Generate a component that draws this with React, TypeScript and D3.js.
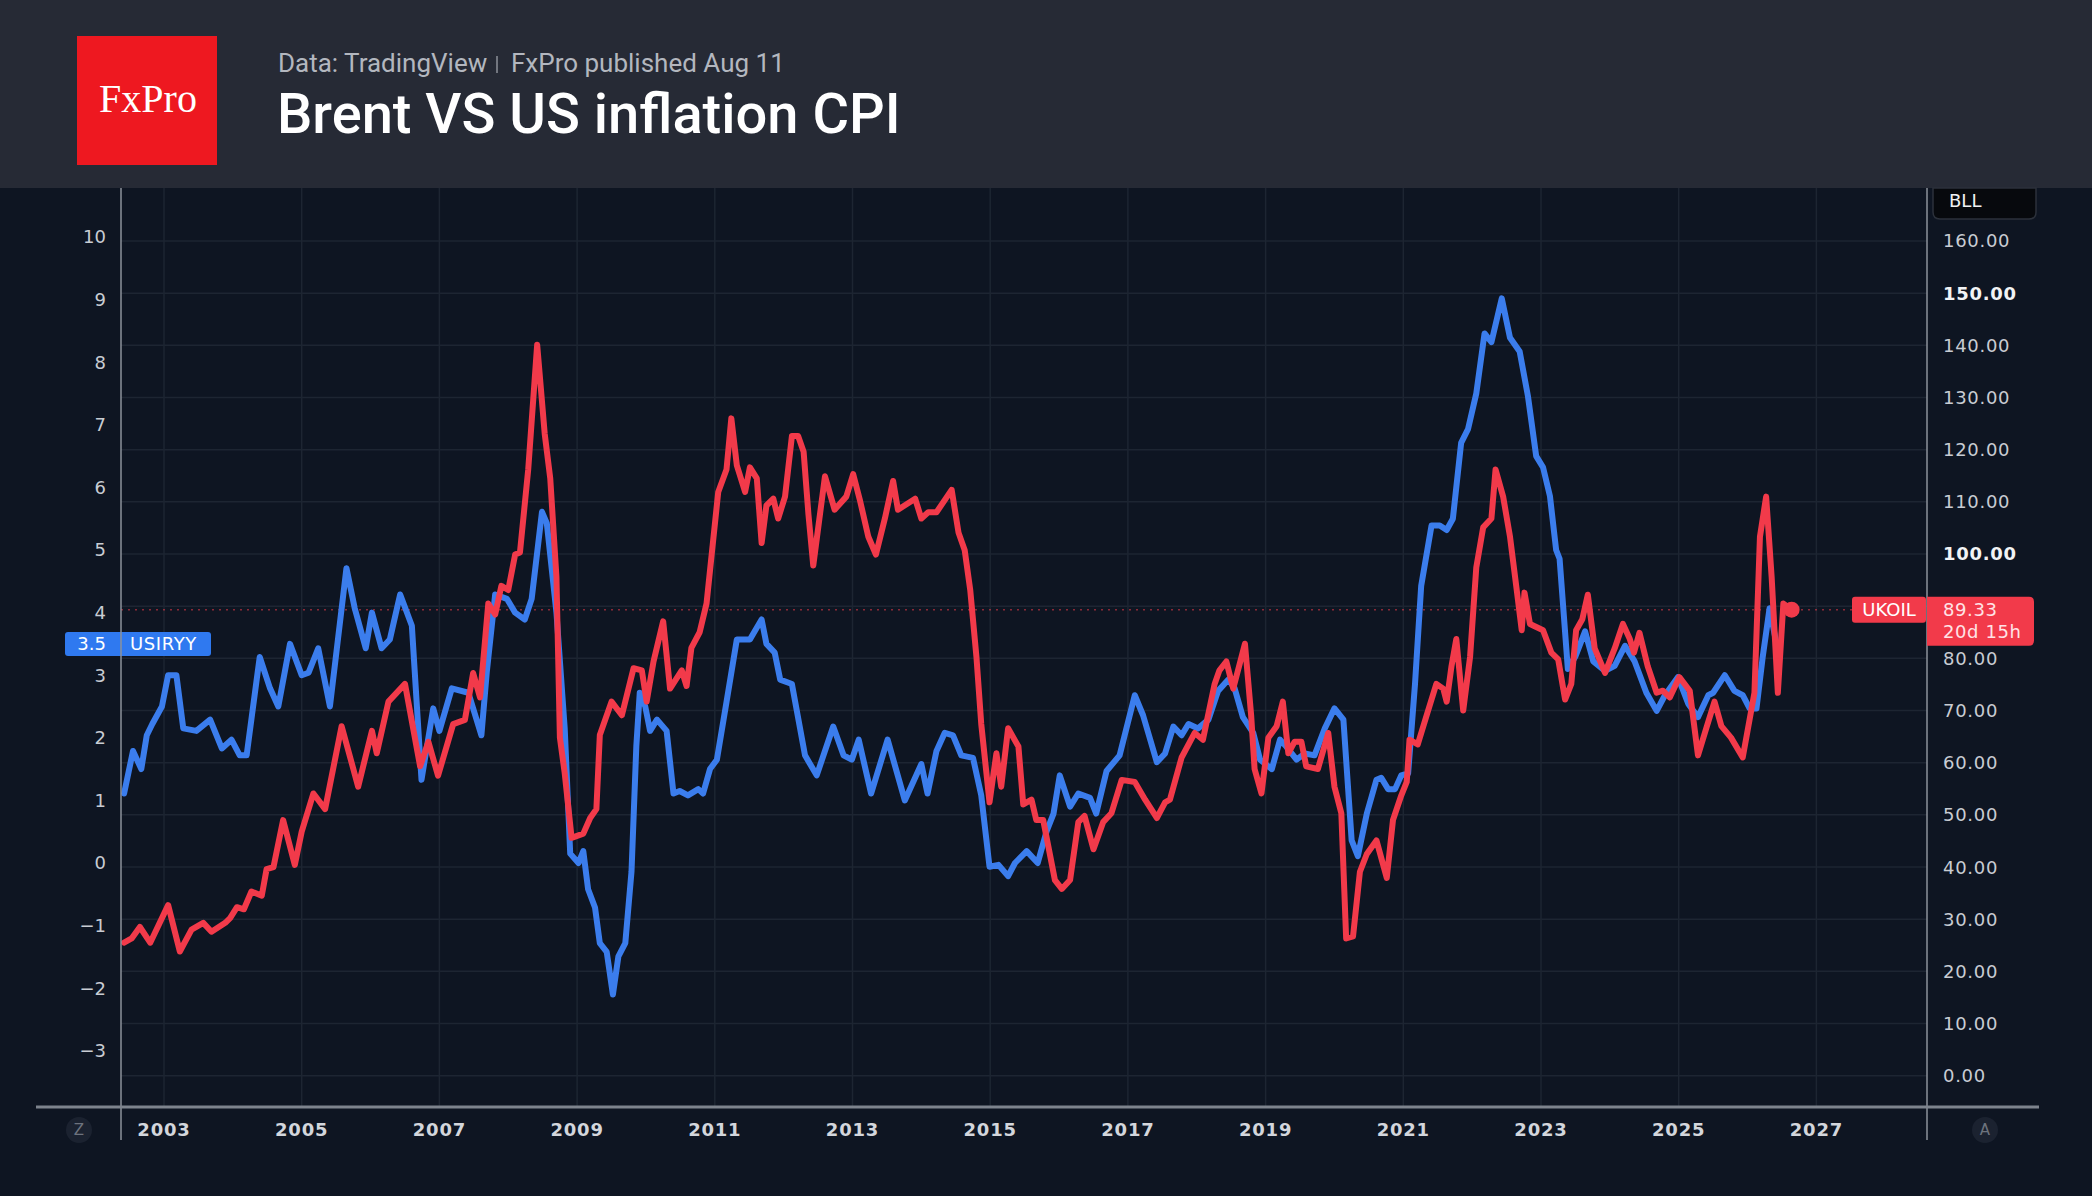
import React from "react";
import * as d3 from "d3";

// US CPI YoY (USIRYY), left axis, %
const cpiDates = [
  2002.42, 2002.55, 2002.67, 2002.75, 2002.83, 2002.97, 2003.06, 2003.18, 2003.28, 2003.47,
  2003.67, 2003.84, 2003.98, 2004.1, 2004.2, 2004.39, 2004.54, 2004.66, 2004.83, 2005.0,
  2005.1, 2005.24, 2005.41, 2005.65, 2005.77, 2005.93, 2006.02, 2006.16, 2006.28, 2006.43,
  2006.6, 2006.74, 2006.91, 2007.0, 2007.18, 2007.42, 2007.61, 2007.69, 2007.81, 2007.98,
  2008.1, 2008.24, 2008.34, 2008.49, 2008.56, 2008.7, 2008.82, 2008.9, 2009.02, 2009.09,
  2009.16, 2009.26, 2009.33, 2009.43, 2009.52, 2009.6, 2009.7, 2009.79, 2009.86, 2009.91,
  2009.99, 2010.06, 2010.16, 2010.3, 2010.4, 2010.49, 2010.61, 2010.76, 2010.83, 2010.93,
  2011.03, 2011.17, 2011.32, 2011.51, 2011.68, 2011.75, 2011.87, 2011.95, 2012.12, 2012.31,
  2012.48, 2012.72, 2012.87, 2012.99, 2013.09, 2013.27, 2013.51, 2013.76, 2014.0, 2014.09,
  2014.22, 2014.34, 2014.46, 2014.58, 2014.75, 2014.87, 2014.99, 2015.12, 2015.26, 2015.36,
  2015.53, 2015.69, 2015.82, 2015.92, 2016.01, 2016.16, 2016.28, 2016.45, 2016.54, 2016.69,
  2016.88, 2017.1, 2017.22, 2017.42, 2017.54, 2017.66, 2017.78, 2017.88, 2018.02, 2018.17,
  2018.31, 2018.46, 2018.55, 2018.67, 2018.82, 2018.92, 2019.09, 2019.21, 2019.3, 2019.45,
  2019.57, 2019.71, 2019.86, 2020.0, 2020.13, 2020.25, 2020.34, 2020.47, 2020.61, 2020.68,
  2020.78, 2020.88, 2020.97, 2021.07, 2021.17, 2021.26, 2021.41, 2021.53, 2021.63, 2021.72,
  2021.84, 2021.94, 2022.06, 2022.18, 2022.28, 2022.43, 2022.55, 2022.69, 2022.81, 2022.93,
  2023.03, 2023.13, 2023.22, 2023.27, 2023.39, 2023.5, 2023.64, 2023.76, 2023.93, 2024.07,
  2024.22, 2024.36, 2024.53, 2024.68, 2024.8, 2024.99, 2025.14, 2025.28, 2025.43, 2025.5,
  2025.67, 2025.81, 2025.93, 2026.03, 2026.13, 2026.22, 2026.32, 2026.42,
];
const cpiValues = [
  1.11, 1.79, 1.5, 2.04, 2.22, 2.5, 3.0, 3.0, 2.15, 2.11,
  2.29, 1.83, 1.97, 1.72, 1.72, 3.29, 2.79, 2.5, 3.5, 3.0,
  3.04, 3.43, 2.5, 4.71, 4.07, 3.43, 4.0, 3.43, 3.57, 4.29,
  3.79, 1.33, 2.47, 2.11, 2.79, 2.72, 2.04, 3.07, 4.29, 4.22,
  4.0, 3.89, 4.22, 5.61, 5.43, 4.0, 2.15, 0.15, 0.0, 0.19,
  -0.42, -0.71, -1.28, -1.42, -2.1, -1.49, -1.28, -0.14, 1.86, 2.72,
  2.5, 2.11, 2.29, 2.11, 1.11, 1.15, 1.08, 1.18, 1.11, 1.5,
  1.65, 2.57, 3.57, 3.57, 3.89, 3.5, 3.36, 2.93, 2.86, 1.72,
  1.4, 2.18, 1.72, 1.65, 1.97, 1.11, 1.97, 1.0, 1.58, 1.11,
  1.79, 2.08, 2.04, 1.72, 1.68, 1.08, -0.06, -0.03, -0.21, 0.0,
  0.19, 0.0, 0.51, 0.79, 1.4, 0.9, 1.11, 1.04, 0.79, 1.47,
  1.72, 2.68, 2.36, 1.61, 1.75, 2.18, 2.04, 2.22, 2.15, 2.29,
  2.75, 2.93, 2.79, 2.33, 2.08, 1.65, 1.5, 1.97, 1.86, 1.65,
  1.75, 1.72, 2.15, 2.47, 2.29, 0.36, 0.11, 0.79, 1.33, 1.36,
  1.18, 1.18, 1.4, 1.43, 2.86, 4.43, 5.39, 5.39, 5.32, 5.5,
  6.71, 6.93, 7.5, 8.46, 8.32, 9.02, 8.39, 8.17, 7.46, 6.5,
  6.32, 5.86, 5.0, 4.86, 3.1, 3.3, 3.7, 3.22, 3.07, 3.15,
  3.47, 3.22, 2.72, 2.43, 2.68, 2.97, 2.54, 2.33, 2.68, 2.72,
  3.0, 2.75, 2.68, 2.47, 2.47, 3.29, 4.07, 3.5,
];

// Brent (UKOIL), right axis, USD
const brentDates = [
  2002.42, 2002.53, 2002.65, 2002.8, 2003.06, 2003.23, 2003.4, 2003.57, 2003.69, 2003.89,
  2003.96, 2004.06, 2004.16, 2004.27, 2004.42, 2004.49, 2004.59, 2004.73, 2004.9, 2005.0,
  2005.17, 2005.34, 2005.58, 2005.82, 2006.02, 2006.09, 2006.26, 2006.5, 2006.72, 2006.84,
  2006.98, 2007.2, 2007.37, 2007.49, 2007.59, 2007.71, 2007.81, 2007.9, 2008.0, 2008.1,
  2008.17, 2008.29, 2008.42, 2008.53, 2008.61, 2008.7, 2008.75, 2008.82, 2008.92, 2009.09,
  2009.19, 2009.28, 2009.33, 2009.5, 2009.65, 2009.82, 2009.94, 2010.01, 2010.11, 2010.25,
  2010.35, 2010.52, 2010.59, 2010.66, 2010.78, 2010.88, 2011.05, 2011.17, 2011.24, 2011.32,
  2011.44, 2011.51, 2011.61, 2011.68, 2011.75, 2011.85, 2011.92, 2012.02, 2012.12, 2012.21,
  2012.29, 2012.36, 2012.43, 2012.6, 2012.74, 2012.91, 2013.01, 2013.11, 2013.23, 2013.34,
  2013.47, 2013.59, 2013.66, 2013.91, 2014.0, 2014.1, 2014.22, 2014.44, 2014.54, 2014.63,
  2014.71, 2014.8, 2014.87, 2014.99, 2015.09, 2015.16, 2015.26, 2015.41, 2015.48, 2015.6,
  2015.67, 2015.77, 2015.94, 2016.04, 2016.16, 2016.28, 2016.37, 2016.5, 2016.64, 2016.76,
  2016.91, 2017.1, 2017.25, 2017.42, 2017.54, 2017.61, 2017.78, 2017.97, 2018.09, 2018.26,
  2018.33, 2018.43, 2018.53, 2018.7, 2018.79, 2018.84, 2018.94, 2019.04, 2019.16, 2019.25,
  2019.33, 2019.42, 2019.52, 2019.59, 2019.76, 2019.91, 2020.0, 2020.1, 2020.17, 2020.27,
  2020.37, 2020.47, 2020.61, 2020.76, 2020.85, 2020.97, 2021.05, 2021.09, 2021.21, 2021.34,
  2021.48, 2021.58, 2021.63, 2021.7, 2021.77, 2021.87, 2021.97, 2022.06, 2022.16, 2022.28,
  2022.34, 2022.45, 2022.55, 2022.64, 2022.72, 2022.76, 2022.84, 2023.03, 2023.15, 2023.25,
  2023.35, 2023.44, 2023.51, 2023.6, 2023.68, 2023.78, 2023.93, 2024.07, 2024.19, 2024.29,
  2024.35, 2024.43, 2024.55, 2024.68, 2024.77, 2024.87, 2025.01, 2025.16, 2025.28, 2025.4,
  2025.52, 2025.62, 2025.76, 2025.93, 2026.1, 2026.18, 2026.27, 2026.35, 2026.44, 2026.52,
  2026.64,
];
const brentValues = [
  25.5, 26.3, 28.5, 25.5, 32.7, 23.8, 28.0, 29.3, 27.6, 29.3,
  30.2, 32.3, 31.9, 35.3, 34.5, 39.6, 40.0, 49.0, 40.4, 46.8,
  54.1, 51.1, 67.0, 55.4, 66.1, 61.8, 71.7, 75.1, 59.3, 64.0,
  57.5, 67.4, 68.2, 77.2, 72.5, 90.5, 88.4, 93.9, 93.1, 99.9,
  100.3, 116.2, 140.1, 123.0, 114.5, 95.6, 64.8, 58.0, 45.6, 46.4,
  49.4, 51.1, 65.3, 71.7, 69.1, 78.1, 77.7, 71.7, 79.4, 87.1,
  74.2, 77.7, 74.7, 82.0, 85.0, 90.5, 111.9, 116.2, 126.0, 117.0,
  111.9, 116.6, 114.5, 102.1, 109.3, 110.6, 106.8, 111.0, 122.6, 122.6,
  119.6, 107.6, 97.8, 114.9, 108.5, 111.0, 115.3, 110.2, 103.3, 99.9,
  106.8, 114.0, 108.5, 110.6, 106.8, 108.0, 108.0, 112.3, 104.1, 100.7,
  93.1, 80.3, 67.4, 52.4, 61.8, 55.4, 66.6, 63.1, 52.0, 52.9,
  49.0, 49.0, 37.5, 35.8, 37.5, 48.6, 49.8, 43.4, 48.6, 50.3,
  56.7, 56.3, 52.9, 49.4, 52.4, 52.9, 61.0, 65.7, 64.4, 75.1,
  77.7, 79.4, 74.2, 82.8, 69.1, 58.8, 54.1, 64.8, 67.0, 71.7,
  61.8, 64.0, 64.0, 59.3, 58.8, 65.7, 55.4, 50.3, 26.3, 26.7,
  39.1, 42.5, 45.1, 37.9, 49.0, 53.7, 56.3, 64.4, 63.5, 69.1,
  75.1, 74.2, 71.7, 78.5, 83.7, 70.0, 80.3, 97.4, 105.1, 106.8,
  116.2, 111.0, 103.3, 93.9, 85.4, 92.6, 86.6, 85.4, 81.1, 79.8,
  72.1, 75.1, 85.4, 87.5, 92.2, 81.9, 77.2, 81.9, 86.6, 83.7,
  81.1, 84.9, 78.5, 73.4, 73.8, 72.5, 76.4, 73.8, 61.4, 66.6,
  71.7, 67.0, 64.8, 61.0, 73.4, 103.3, 111.0, 95.6, 73.4, 90.5,
  89.33,
];

const yearTicks = [2003, 2005, 2007, 2009, 2011, 2013, 2015, 2017, 2019, 2021, 2023, 2025, 2027];
const cpiTicks = [10, 9, 8, 7, 6, 5, 4, 3, 2, 1, 0, -1, -2, -3];
const brentTicks = [160, 150, 140, 130, 120, 110, 100, 90, 80, 70, 60, 50, 40, 30, 20, 10, 0];
const boldBrentTicks = [150, 100];
const lastBrent = 89.33;
const lastBrentLabel = "89.33";
const lastBrentTimer = "20d 15h";
const lastCpi = 3.5;

const W = 2092;
const H = 1196;
const BG = "#0e1522";
const HEADER = "#262a35";
const GRID = "#1d2532";
const BLUE = "#3b7ded";
const RED = "#f23a4a";
const AXIS_FONT = "'DejaVu Sans', sans-serif";

export default function App() {
  const plotLeft = 121;
  const plotRight = 1927;
  const plotTop = 188;
  const plotBottom = 1107;

  const x = d3.scaleLinear().domain([2003, 2027]).range([164, 1816.4]);
  const yL = d3.scaleLinear().domain([0, 10]).range([863, 237]);
  const yR = d3.scaleLinear().domain([0, 160]).range([1075.7, 241]);

  const cpiPts: [number, number][] = cpiDates.map((d, i) => [d, cpiValues[i]]);
  const brentPts: [number, number][] = brentDates.map((d, i) => [d, brentValues[i]]);

  const cpiLine = d3
    .line<[number, number]>()
    .x((d) => x(d[0]))
    .y((d) => yL(d[1]))
    .curve(d3.curveLinear);
  const brentLine = d3
    .line<[number, number]>()
    .x((d) => x(d[0]))
    .y((d) => yR(d[1]))
    .curve(d3.curveLinear);

  const lastX = x(brentDates[brentDates.length - 1]);
  const lastY = yR(lastBrent);
  const cpiY = yL(lastCpi);

  const fmtCpi = (v: number) => (v < 0 ? "\u2212" + Math.abs(v) : String(v));

  return (
    <div style={{ position: "absolute", left: 0, top: 0, width: W, height: H, background: BG }}>
      <svg width={W} height={H} viewBox={`0 0 ${W} ${H}`} style={{ display: "block" }}>
        <defs>
          <clipPath id="plotClip">
            <rect x={plotLeft} y={plotTop} width={plotRight - plotLeft} height={plotBottom - plotTop} />
          </clipPath>
        </defs>
        <rect x={0} y={0} width={W} height={H} fill={BG} />

        {/* header */}
        <rect x={0} y={0} width={W} height={plotTop} fill={HEADER} />
        <rect x={77} y={36} width={140} height={129} fill="#ee1820" />
        <text
          x={148}
          y={112}
          textAnchor="middle"
          fill="#ffffff"
          style={{ font: "40px 'Liberation Serif', 'DejaVu Serif', serif" }}
        >
          FxPro
        </text>
        <text x={278} y={72} fill="#b3b7bf" style={{ font: "26px Roboto, sans-serif" }}>
          Data: TradingView
        </text>
        <line x1={497} x2={497} y1={56} y2={73} stroke="#8c9099" strokeWidth={1.5} />
        <text x={511} y={72} fill="#b3b7bf" style={{ font: "26px Roboto, sans-serif" }}>
          FxPro published Aug 11
        </text>
        <text x={277} y={133} fill="#ffffff" style={{ font: "500 56px Roboto, sans-serif" }}>
          Brent VS US inflation CPI
        </text>

        {/* grid */}
        <g>
          {brentTicks.map((t) => (
            <line key={"h" + t} x1={plotLeft} x2={plotRight} y1={yR(t)} y2={yR(t)} stroke={GRID} strokeWidth={1.5} />
          ))}
          {yearTicks.map((t) => (
            <line key={"v" + t} x1={x(t)} x2={x(t)} y1={plotTop} y2={plotBottom} stroke={GRID} strokeWidth={1.5} />
          ))}
        </g>

        {/* last price dotted line */}
        <line
          x1={plotLeft}
          x2={1852}
          y1={lastY}
          y2={lastY}
          stroke={RED}
          strokeOpacity={0.55}
          strokeWidth={1.5}
          strokeDasharray="2 5"
        />

        {/* series */}
        <g clipPath="url(#plotClip)">
          <path d={cpiLine(cpiPts) || ""} fill="none" stroke={BLUE} strokeWidth={6} strokeLinejoin="round" strokeLinecap="round" />
          <path d={brentLine(brentPts) || ""} fill="none" stroke={RED} strokeWidth={6} strokeLinejoin="round" strokeLinecap="round" />
          <circle cx={lastX} cy={lastY} r={8} fill={RED} />
        </g>

        {/* axes lines */}
        <line x1={plotLeft} x2={plotLeft} y1={plotTop} y2={1140} stroke="#8d929b" strokeWidth={1.5} />
        <line x1={plotRight} x2={plotRight} y1={plotTop} y2={1140} stroke="#8d929b" strokeWidth={1.5} />
        <line x1={36} x2={2039} y1={plotBottom} y2={plotBottom} stroke="#7d838d" strokeWidth={3} />

        {/* left axis labels */}
        {cpiTicks.map((t) => (
          <text
            key={"l" + t}
            x={106}
            y={yL(t)}
            dy="0.36em"
            textAnchor="end"
            fill="#c8ccd3"
            style={{ font: `18px ${AXIS_FONT}` }}
          >
            {fmtCpi(t)}
          </text>
        ))}

        {/* right axis labels */}
        {brentTicks.map((t) => {
          const bold = boldBrentTicks.includes(t);
          return (
            <text
              key={"r" + t}
              x={1943}
              y={yR(t)}
              dy="0.36em"
              fill={bold ? "#f2f3f5" : "#c8ccd3"}
              letterSpacing={0.7}
              style={{ font: `${bold ? "bold " : ""}18px ${AXIS_FONT}` }}
            >
              {t.toFixed(2)}
            </text>
          );
        })}

        {/* x axis labels */}
        {yearTicks.map((t) => (
          <text
            key={"x" + t}
            x={x(t)}
            y={1130}
            dy="0.36em"
            textAnchor="middle"
            fill="#d3d6dc"
            letterSpacing={0.8}
            style={{ font: `bold 18px ${AXIS_FONT}` }}
          >
            {t}
          </text>
        ))}

        {/* Z / A buttons */}
        <circle cx={79} cy={1130} r={13} fill="#1b2230" />
        <text x={79} y={1130} dy="0.36em" textAnchor="middle" fill="#6d737e" style={{ font: `15px ${AXIS_FONT}` }}>
          Z
        </text>
        <circle cx={1985} cy={1130} r={13} fill="#1b2230" />
        <text x={1985} y={1130} dy="0.36em" textAnchor="middle" fill="#6d737e" style={{ font: `15px ${AXIS_FONT}` }}>
          A
        </text>

        {/* BLL box */}
        <path
          d="M1933,188 L2036,188 L2036,212 Q2036,219 2029,219 L1940,219 Q1933,219 1933,212 Z"
          fill="#07090d"
          stroke="#2c313b"
          strokeWidth={1.5}
        />
        <text x={1949} y={207} fill="#f0f1f3" style={{ font: `18px ${AXIS_FONT}` }}>
          BLL
        </text>

        {/* UKOIL labels */}
        <rect x={1852} y={lastY - 13} width={74} height={26} rx={3} fill={RED} />
        <text x={1889} y={lastY} dy="0.36em" textAnchor="middle" fill="#ffffff" style={{ font: `18px ${AXIS_FONT}` }}>
          UKOIL
        </text>
        <path
          d={`M1927,${lastY - 13} L2029,${lastY - 13} Q2034,${lastY - 13} 2034,${lastY - 8} L2034,${lastY + 31} Q2034,${lastY + 36} 2029,${lastY + 36} L1927,${lastY + 36} Z`}
          fill={RED}
        />
        <text x={1943} y={lastY} dy="0.36em" fill="#ffe3e6" letterSpacing={0.6} style={{ font: `18px ${AXIS_FONT}` }}>
          {lastBrentLabel}
        </text>
        <text x={1943} y={lastY + 22} dy="0.36em" fill="#ffe3e6" letterSpacing={0.6} style={{ font: `18px ${AXIS_FONT}` }}>
          {lastBrentTimer}
        </text>

        {/* USIRYY labels */}
        <rect x={65} y={cpiY - 12} width={146} height={24} rx={3} fill="#2f79f0" />
        <line x1={plotLeft} x2={plotLeft} y1={cpiY - 12} y2={cpiY + 12} stroke="#8d929b" strokeWidth={1.5} />
        <text x={106} y={cpiY} dy="0.36em" textAnchor="end" fill="#ffffff" style={{ font: `18px ${AXIS_FONT}` }}>
          {lastCpi}
        </text>
        <text x={130} y={cpiY} dy="0.36em" fill="#ffffff" letterSpacing={0.6} style={{ font: `18px ${AXIS_FONT}` }}>
          USIRYY
        </text>
      </svg>
    </div>
  );
}
